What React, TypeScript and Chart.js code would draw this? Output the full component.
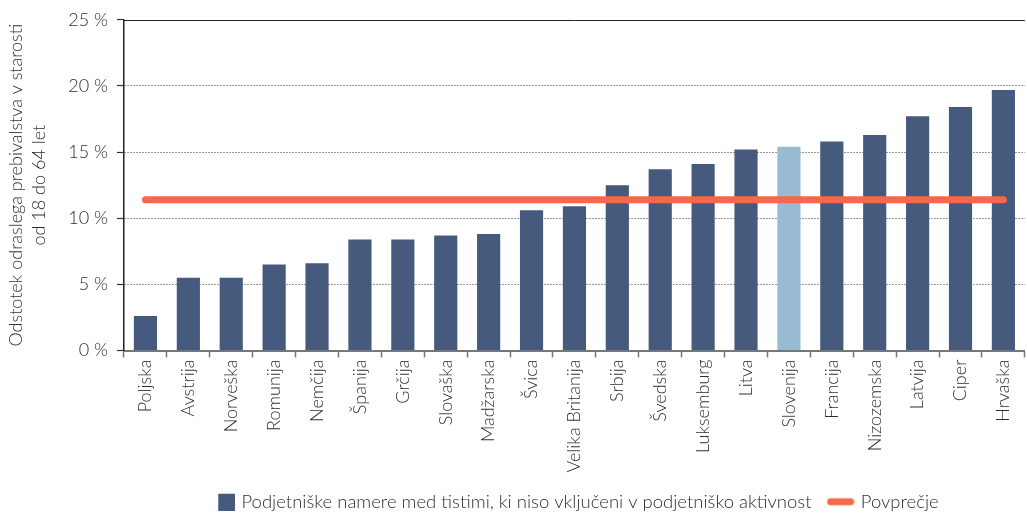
import React, { useEffect, useRef } from "react";
import { Chart, registerables } from "chart.js";
Chart.register(...registerables);

const categories = [
  "Poljska", "Avstrija", "Norveška", "Romunija", "Nemčija", "Španija", "Grčija",
  "Slovaška", "Madžarska", "Švica", "Velika Britanija", "Srbija", "Švedska",
  "Luksemburg", "Litva", "Slovenija", "Francija", "Nizozemska", "Latvija", "Ciper", "Hrvaška",
];
const intentions = [
  2.6, 5.5, 5.5, 6.5, 6.6, 8.4, 8.4, 8.7, 8.8, 10.6, 10.9, 12.5, 13.7,
  14.1, 15.2, 15.4, 15.8, 16.3, 17.7, 18.4, 19.7,
];
const average = [
  11.4, 11.4, 11.4, 11.4, 11.4, 11.4, 11.4, 11.4, 11.4, 11.4, 11.4, 11.4, 11.4,
  11.4, 11.4, 11.4, 11.4, 11.4, 11.4, 11.4, 11.4,
];
const highlighted = "Slovenija";
const seriesLabels = [
  "Podjetniške namere med tistimi, ki niso vključeni v podjetniško aktivnost",
  "Povprečje",
];
const yTitle = ["Odstotek odraslega prebivalstva v starosti", "od 18 do 64 let"];
const yMin = 0;
const yMax = 25;
const yStep = 5;

const BAR = "#465a7e";
const BAR_HI = "#99bbd2";
const LINE = "#f26a4a";
const TEXT = "#2e2e2e";
const FONT = "Lato";

function makeIcon(kind: "bar" | "line"): HTMLCanvasElement {
  const c = document.createElement("canvas");
  c.width = 28;
  c.height = 18;
  const ctx = c.getContext("2d")!;
  if (kind === "bar") {
    ctx.fillStyle = BAR;
    ctx.fillRect(11, 1, 17, 17);
  } else {
    ctx.strokeStyle = LINE;
    ctx.lineWidth = 7;
    ctx.lineCap = "round";
    ctx.beginPath();
    ctx.moveTo(4, 9);
    ctx.lineTo(24, 9);
    ctx.stroke();
  }
  return c;
}

const topLine = {
  id: "topLine",
  afterLayout(chart: any) {
    const lg = chart.legend;
    if (lg) {
      lg.left = chart.chartArea.left;
      lg.right = chart.chartArea.right;
    }
  },
  beforeDatasetsDraw(chart: any) {
    const { ctx, chartArea } = chart;
    ctx.save();
    ctx.strokeStyle = "#222";
    ctx.lineWidth = 1;
    ctx.beginPath();
    ctx.moveTo(chartArea.left, Math.round(chartArea.top) + 0.5);
    ctx.lineTo(chartArea.right, Math.round(chartArea.top) + 0.5);
    ctx.stroke();
    ctx.restore();
  },
};

export default function App() {
  const ref = useRef<HTMLCanvasElement>(null);
  useEffect(() => {
    document.body.style.margin = "0";
    const icons = [makeIcon("bar"), makeIcon("line")];
    const chart = new Chart(ref.current!, {
      type: "bar",
      data: {
        labels: categories,
        datasets: [
          {
            type: "bar",
            label: seriesLabels[0],
            data: intentions,
            backgroundColor: categories.map((c) => (c === highlighted ? BAR_HI : BAR)),
            barPercentage: 0.54,
            categoryPercentage: 1,
            order: 1,
          },
          {
            type: "line",
            label: seriesLabels[1],
            data: average,
            borderColor: LINE,
            borderWidth: 7,
            borderCapStyle: "round",
            pointRadius: 0,
            fill: false,
            order: 0,
          } as any,
        ],
      },
      options: {
        responsive: false,
        animation: false,
        layout: { padding: { top: 10, right: 0, bottom: -5, left: 0 } },
        plugins: {
          tooltip: { enabled: false },
          legend: {
            position: "bottom",
            labels: {
              usePointStyle: true,
              pointStyleWidth: 22,
              boxHeight: 16,
              padding: 18,
              color: TEXT,
              font: { family: FONT, size: 18.5, weight: "300" as any },
              generateLabels: (ch: any) =>
                ch.data.datasets.map((d: any, i: number) => ({
                  text: d.label,
                  pointStyle: icons[i],
                  fillStyle: i === 0 ? BAR : LINE,
                  strokeStyle: "transparent",
                  lineWidth: 0,
                  hidden: false,
                  datasetIndex: i,
                  fontColor: TEXT,
                })),
            },
          },
        },
        scales: {
          x: {
            grid: {
              drawOnChartArea: false,
              drawTicks: true,
              tickLength: 7,
              tickColor: "#777",
              tickWidth: 1.5,
              offset: true,
            },
            border: { color: "#777", width: 2 },
            ticks: {
              autoSkip: false,
              minRotation: 90,
              maxRotation: 90,
              padding: 2,
              color: TEXT,
              font: { family: FONT, size: 18, weight: "300" as any },
            },
            afterFit: (s: any) => {
              s.height = 124;
            },
          },
          y: {
            min: yMin,
            max: yMax,
            ticks: {
              stepSize: yStep,
              padding: 9,
              color: TEXT,
              font: { family: FONT, size: 18, weight: "300" as any },
              callback: (v: any) => `${v} %`,
            },
            grid: {
              color: (c: any) =>
                c.tick && (c.tick.value === yMin || c.tick.value === yMax) ? "rgba(0,0,0,0)" : "#333",
              lineWidth: 1,
              tickColor: "#333",
              tickLength: 7,
              tickWidth: 1.2,
            },
            border: { color: "#222", width: 1.5, dash: [1, 2] },
            title: {
              display: true,
              text: yTitle,
              color: TEXT,
              font: { family: FONT, size: 18, weight: "300" as any, lineHeight: 1.28 },
              padding: { top: 5, bottom: 0 },
            },
            afterFit: (s: any) => {
              s.width = 124;
            },
          },
        },
      },
      plugins: [topLine],
    });
    return () => chart.destroy();
  }, []);
  return (
    <div style={{ position: "absolute", left: 0, top: 0, width: 1027, height: 516 }}>
      <canvas ref={ref} width={1027} height={516} />
    </div>
  );
}
